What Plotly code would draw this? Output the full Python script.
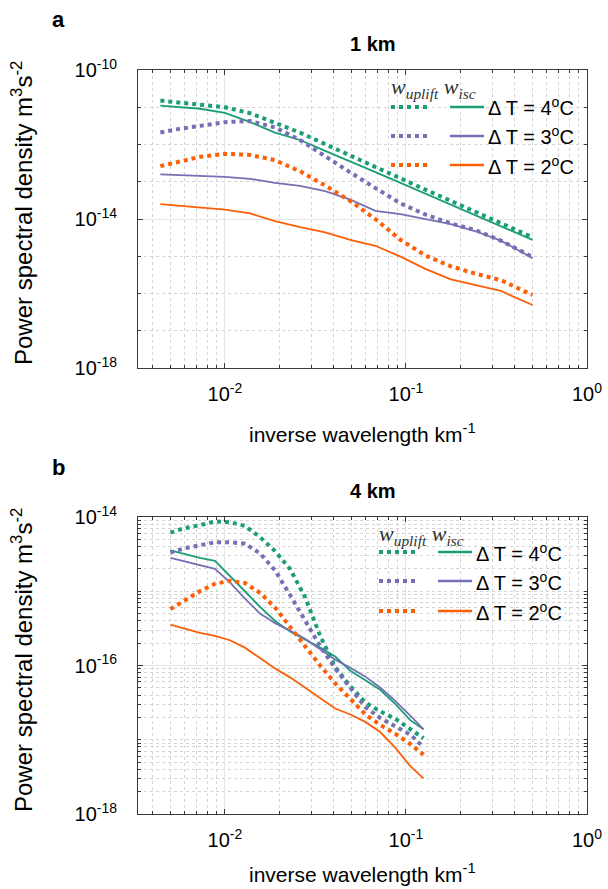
import plotly.graph_objects as go

# ---------------- data ----------------
# panel a: 1 km
x_1km = [0.0044, 0.0056, 0.0073, 0.010, 0.0138, 0.0189, 0.026, 0.0358, 0.0493,
         0.0678, 0.0933, 0.128, 0.177, 0.243, 0.334, 0.5]
up4_1km = [1.51e-11, 1.35e-11, 1.23e-11, 1.0e-11, 6.92e-12, 3.80e-12, 2.09e-12, 1.02e-12,
           5.13e-13, 2.51e-13, 1.23e-13, 6.17e-14, 3.09e-14, 1.55e-14, 7.94e-15, 3.24e-15]
isc4_1km = [1.10e-11, 1.0e-11, 9.12e-12, 7.08e-12, 3.98e-12, 2.09e-12, 1.32e-12, 6.76e-13,
            3.55e-13, 1.82e-13, 9.33e-14, 4.79e-14, 2.45e-14, 1.26e-14, 6.61e-15, 2.75e-15]
up3_1km = [2.09e-12, 2.63e-12, 3.16e-12, 3.98e-12, 4.27e-12, 2.88e-12, 1.32e-12, 4.68e-13,
           1.78e-13, 6.76e-14, 2.63e-14, 1.32e-14, 7.59e-15, 5.01e-15, 2.63e-15, 9.55e-16]
isc3_1km = [1.58e-13, 1.51e-13, 1.41e-13, 1.35e-13, 1.20e-13, 9.33e-14, 7.76e-14, 5.62e-14,
            3.31e-14, 1.66e-14, 1.35e-14, 1.0e-14, 7.24e-15, 4.68e-15, 2.63e-15, 8.91e-16]
up2_1km = [2.63e-13, 3.55e-13, 4.68e-13, 5.62e-13, 5.25e-13, 3.80e-13, 1.91e-13, 7.94e-14,
           3.02e-14, 1.0e-14, 2.75e-15, 1.05e-15, 5.37e-16, 3.39e-16, 2.29e-16, 9.12e-17]
isc2_1km = [2.51e-14, 2.24e-14, 2.0e-14, 1.78e-14, 1.41e-14, 8.71e-15, 6.03e-15, 4.37e-15,
            2.75e-15, 1.91e-15, 9.77e-16, 4.57e-16, 2.40e-16, 1.66e-16, 1.17e-16, 4.90e-17]

# panel b: 4 km
x_4km = [0.005, 0.0060, 0.00727, 0.00881, 0.01066, 0.0129, 0.01563, 0.01892, 0.0229,
         0.02773, 0.03358, 0.04066, 0.04929, 0.0597, 0.0723, 0.0875, 0.106, 0.125]
up4_4km = [6.17e-15, 7.08e-15, 7.76e-15, 8.71e-15, 8.51e-15, 7.59e-15, 5.37e-15, 3.47e-15, 2.0e-15,
           8.32e-16, 2.51e-16, 9.55e-17, 5.25e-17, 3.16e-17, 2.40e-17, 1.91e-17, 1.38e-17, 1.05e-17]
up3_4km = [3.31e-15, 3.80e-15, 4.17e-15, 4.57e-15, 4.57e-15, 4.37e-15, 3.24e-15, 1.91e-15, 8.91e-16,
           3.98e-16, 1.82e-16, 9.12e-17, 5.01e-17, 2.75e-17, 1.95e-17, 1.51e-17, 1.17e-17, 7.94e-18]
up2_4km = [5.75e-16, 7.59e-16, 1.0e-15, 1.26e-15, 1.38e-15, 1.29e-15, 9.55e-16, 6.03e-16, 3.39e-16,
           1.82e-16, 1.0e-16, 5.75e-17, 3.55e-17, 2.19e-17, 1.58e-17, 1.20e-17, 8.71e-18, 6.31e-18]
isc4_4km = [3.55e-15, 3.16e-15, 2.82e-15, 2.57e-15, 1.58e-15, 1.0e-15, 6.17e-16, 3.98e-16, 2.88e-16,
            2.24e-16, 1.74e-16, 1.32e-16, 8.51e-17, 6.31e-17, 4.68e-17, 3.02e-17, 1.82e-17, 1.38e-17]
isc3_4km = [2.82e-15, 2.51e-15, 2.24e-15, 2.0e-15, 1.32e-15, 7.94e-16, 5.01e-16, 3.72e-16, 2.95e-16,
            2.29e-16, 1.66e-16, 1.20e-16, 9.33e-17, 7.08e-17, 5.01e-17, 3.31e-17, 2.09e-17, 1.38e-17]
isc2_4km = [3.55e-16, 3.16e-16, 2.75e-16, 2.51e-16, 2.19e-16, 1.74e-16, 1.26e-16, 9.12e-17, 6.92e-17,
            5.01e-17, 3.55e-17, 2.63e-17, 2.19e-17, 1.74e-17, 1.26e-17, 7.76e-18, 4.37e-18, 3.02e-18]

series_labels = ["Δ T = 4<sup>o</sup>C", "Δ T = 3<sup>o</sup>C", "Δ T = 2<sup>o</sup>C"]
x_tickvals = [0.01, 0.1, 1]
x_ticktext = ["10<sup>-2</sup>", "10<sup>-1</sup>", "10<sup>0</sup>"]
y1_tickvals = [1e-18, 1e-14, 1e-10]
y1_ticktext = ["10<sup>-18</sup>", "10<sup>-14</sup>", "10<sup>-10</sup>"]
y2_tickvals = [1e-18, 1e-16, 1e-14]
y2_ticktext = ["10<sup>-18</sup>", "10<sup>-16</sup>", "10<sup>-14</sup>"]

# ---------------- styling ----------------
COLORS = ["#1b9e77", "#7570b3", "#fb5f07"]
W, H = 608, 889
FONT = "Liberation Sans, Arial, Helvetica, sans-serif"
X0, X1 = 138, 587
TOP = (70, 368)
BOT = (517, 814)


def px(x):
    return x / W


def py(y):
    return 1 - y / H


fig = go.Figure()

panels = [
    ("x", "y", x_1km, [up4_1km, up3_1km, up2_1km], [isc4_1km, isc3_1km, isc2_1km]),
    ("x2", "y2", x_4km, [up4_4km, up3_4km, up2_4km], [isc4_4km, isc3_4km, isc2_4km]),
]
for xa, ya, xs, ups, iscs in panels:
    for c, ys in zip(COLORS, iscs):
        fig.add_trace(go.Scatter(x=xs, y=ys, xaxis=xa, yaxis=ya, mode="lines",
                                 line=dict(color=c, width=1.8), showlegend=False,
                                 hoverinfo="skip"))
    for c, ys in zip(COLORS, ups):
        fig.add_trace(go.Scatter(x=xs, y=ys, xaxis=xa, yaxis=ya, mode="lines",
                                 line=dict(color=c, width=4, dash="dot"), showlegend=False,
                                 hoverinfo="skip"))

minor_x = [m * 10.0 ** e for e in (-3, -2, -1) for m in range(2, 10) if m * 10.0 ** e > 0.0034]
minor_y1 = [10.0 ** e for e in range(-17, -10)]
minor_y2 = [m * 10.0 ** e for e in (-18, -17, -16, -15) for m in range(1, 10)
            if m * 10.0 ** e not in (1e-18, 1e-16) and m * 10.0 ** e < 1e-14]

grid_major = "#e6e6e6"
grid_minor = "#d4d4d4"
axis_common = dict(
    type="log", showline=True, linecolor="#3a3a3a", linewidth=1, mirror="all",
    ticks="inside", ticklen=5, tickcolor="#3a3a3a", showgrid=True, gridcolor=grid_major,
    gridwidth=1, zeroline=False, tickfont=dict(family=FONT, size=20, color="black"),
    tickmode="array", automargin=False,
)


def xaxis(anchor, tickvals_minor):
    d = dict(axis_common)
    d.update(domain=[px(X0), px(X1)], range=[-2.48, 0], anchor=anchor,
             tickvals=x_tickvals, ticktext=x_ticktext, ticklabelstandoff=8,
             minor=dict(tickvals=tickvals_minor, ticks="inside", ticklen=3,
                        tickcolor="#3a3a3a", showgrid=True, gridcolor=grid_minor,
                        griddash="dot", gridwidth=1))
    return d


def yaxis(anchor, dom, rng, tv, tt, mv):
    d = dict(axis_common)
    d.update(domain=[py(dom[1]), py(dom[0])], range=rng, anchor=anchor,
             tickvals=tv, ticktext=tt, ticklabelstandoff=16,
             minor=dict(tickvals=mv, ticks="inside", ticklen=3,
                        tickcolor="#3a3a3a", showgrid=True, gridcolor=grid_minor,
                        griddash="dot", gridwidth=1))
    return d


fig.update_layout(
    width=W, height=H, margin=dict(l=0, r=0, t=0, b=0, autoexpand=False),
    paper_bgcolor="white", plot_bgcolor="white",
    font=dict(family=FONT, color="black"),
    xaxis=xaxis("y", minor_x),
    yaxis=yaxis("x", TOP, [-18, -10], y1_tickvals, y1_ticktext, minor_y1),
    xaxis2=xaxis("y2", minor_x),
    yaxis2=yaxis("x2", BOT, [-18, -14], y2_tickvals, y2_ticktext, minor_y2),
)

annotations = []
shapes = []


def ann(text, x, y, size, family=FONT, xanchor="center", angle=0, color="black"):
    annotations.append(dict(text=text, x=px(x), y=py(y), xref="paper", yref="paper",
                            xanchor=xanchor, yanchor="middle", showarrow=False,
                            textangle=angle, font=dict(size=size, family=family, color=color)))


offset = BOT[0] - TOP[0]
title_y = [433, 873]
for i, (letter, title) in enumerate([("a", "1 km"), ("b", "4 km")]):
    dy = i * offset
    ann(f"<b>{letter}</b>", 58, 20 + dy, 22)
    ann(f"<b>{title}</b>", 373, 44 + dy, 20)
    ann("inverse wavelength km<sup>-1</sup>", (X0 + X1) / 2, title_y[i], 21)
    ann("Power spectral density m<sup>3</sup>s<sup>-2</sup>", 22, (TOP[0] + TOP[1]) / 2 + dy - 6, 24, angle=-90)

# legends
legend_geo = [
    dict(hx=433, hy=88, d0=391, d1=428, s0=450, s1=484, tx=486, rows=[107, 136, 165]),
    dict(hx=421, hy=535, d0=379, d1=416, s0=438, s1=472, tx=474, rows=[552, 581, 611]),
]
for g in legend_geo:
    ann("<i>w</i><sub><i>uplift</i></sub> <i>w</i><sub><i>isc</i></sub>", g["hx"], g["hy"], 22,
        family="Liberation Serif, DejaVu Serif, serif", color="#333")
    for c, ry, lab in zip(COLORS, g["rows"], series_labels):
        shapes.append(dict(type="line", xref="paper", yref="paper", x0=px(g["d0"]), x1=px(g["d1"]),
                           y0=py(ry), y1=py(ry), line=dict(color=c, width=4, dash="dot")))
        shapes.append(dict(type="line", xref="paper", yref="paper", x0=px(g["s0"]), x1=px(g["s1"]),
                           y0=py(ry), y1=py(ry), line=dict(color=c, width=2.5)))
        ann(lab, g["tx"], ry, 20, xanchor="left")

fig.update_layout(annotations=annotations, shapes=shapes)
fig.write_html("out.html")
